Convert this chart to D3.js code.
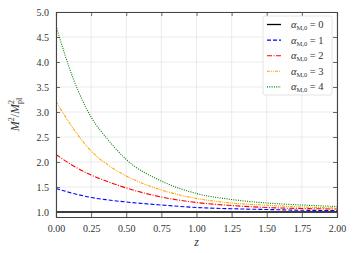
<!DOCTYPE html>
<html><head><meta charset="utf-8">
<script src="https://cdn.jsdelivr.net/npm/d3@7"></script>
<style>body{margin:0;background:#fff}svg{display:block}</style>
</head><body><div id="c"></div>
<script>
const zValues = [0, 0.125, 0.25, 0.375, 0.5, 0.75, 1.0, 1.25, 1.5, 1.75, 2.0];
const alpha0 = [1, 1, 1, 1, 1, 1, 1, 1, 1, 1, 1];
const alpha1 = [1.47, 1.37, 1.29, 1.24, 1.20, 1.14, 1.09, 1.065, 1.05, 1.035, 1.03];
const alpha2 = [2.15, 1.92, 1.74, 1.60, 1.48, 1.30, 1.19, 1.13, 1.09, 1.07, 1.06];
const alpha3 = [3.21, 2.66, 2.22, 1.93, 1.72, 1.44, 1.27, 1.18, 1.135, 1.10, 1.08];
const alpha4 = [4.72, 3.65, 2.90, 2.43, 2.05, 1.62, 1.37, 1.25, 1.18, 1.14, 1.11];
const seriesLabels = ["0", "1", "2", "3", "4"];
const xTicks = [0, 0.25, 0.5, 0.75, 1.0, 1.25, 1.5, 1.75, 2.0];
const yTicks = [1.0, 1.5, 2.0, 2.5, 3.0, 3.5, 4.0, 4.5, 5.0];

(function () {
const FONT = "'Liberation Serif', 'DejaVu Serif', serif";
const W = 354, H = 253;
const m = {l: 56, r: 17, t: 12, b: 36};
const svg = d3.select("#c").append("svg").attr("width", W).attr("height", H)
  .style("font-family", FONT);
const x = d3.scaleLinear().domain([0, 2]).range([m.l, W - m.r]);
const y = d3.scaleLinear().domain([0.9, 5.0]).range([H - m.b, m.t]);

const g = svg.append("g");
g.selectAll(".gx").data(xTicks).enter().append("line")
  .attr("x1", d => x(d)).attr("x2", d => x(d)).attr("y1", m.t).attr("y2", H - m.b)
  .attr("stroke", "#e6e6e6").attr("stroke-width", 0.8);
g.selectAll(".gy").data(yTicks).enter().append("line")
  .attr("x1", m.l).attr("x2", W - m.r).attr("y1", d => y(d)).attr("y2", d => y(d))
  .attr("stroke", "#e6e6e6").attr("stroke-width", 0.8);

const series = [
  {v: alpha0, c: "#000000", d: null, w: 1.3},
  {v: alpha1, c: "#0000ff", d: "4,2", w: 1.1},
  {v: alpha2, c: "#ff0000", d: "5,1.5,1,1.5", w: 1.1},
  {v: alpha3, c: "#ffa500", d: "3,1,1,1,1,1", w: 1.1},
  {v: alpha4, c: "#008000", d: "1,1.3", w: 1.1}
];
const line = d3.line().x((d, i) => x(zValues[i])).y(d => y(d)).curve(d3.curveMonotoneX);
svg.append("defs").append("clipPath").attr("id", "clp").append("rect")
  .attr("x", m.l).attr("y", m.t).attr("width", W - m.l - m.r).attr("height", H - m.t - m.b);
const lg = svg.append("g").attr("clip-path", "url(#clp)");
series.forEach(s => {
  lg.append("path").attr("d", line(s.v)).attr("fill", "none")
    .attr("stroke", s.c).attr("stroke-width", s.w).attr("stroke-dasharray", s.d);
});

const ax = svg.append("g");
const frameColor = "#444";
const aBottom = d3.axisBottom(x).tickValues(xTicks).tickSize(-4).tickPadding(8).tickFormat(d3.format(".2f"));
const aTop = d3.axisTop(x).tickValues(xTicks).tickSize(-4).tickFormat("");
const aLeft = d3.axisLeft(y).tickValues(yTicks).tickSize(-4).tickPadding(7).tickFormat(d3.format(".1f"));
const aRight = d3.axisRight(y).tickValues(yTicks).tickSize(-4).tickFormat("");
[[aBottom, `translate(0,${H - m.b})`], [aTop, `translate(0,${m.t})`], [aLeft, `translate(${m.l},0)`], [aRight, `translate(${W - m.r},0)`]].forEach(([a, t]) => {
  const gg = ax.append("g").attr("transform", t).call(a).attr("font-family", null);
  gg.select(".domain").attr("stroke", frameColor).attr("stroke-width", 1.1);
  gg.selectAll(".tick line").attr("stroke", frameColor).attr("stroke-width", 0.8);
  gg.selectAll(".tick text").style("font-family", FONT).attr("font-size", 10).attr("fill", "#333");
});

svg.append("text").attr("x", x(1)).attr("y", 246).attr("text-anchor", "middle")
  .style("font-family", FONT).attr("font-size", 12).attr("font-style", "italic").attr("fill", "#333").text("z");
const yl = svg.append("text").attr("transform", `translate(19,${(m.t + H - m.b) / 2}) rotate(-90)`)
  .style("font-family", FONT).attr("text-anchor", "middle").attr("font-size", 12).attr("fill", "#333");
yl.append("tspan").attr("font-style", "italic").text("M");
yl.append("tspan").attr("font-size", 8).attr("dy", -5).text("2");
yl.append("tspan").attr("dy", 5).text("/");
yl.append("tspan").attr("font-style", "italic").text("M");
yl.append("tspan").attr("font-size", 8).attr("dy", -5).text("2");
yl.append("tspan").attr("font-size", 8).attr("dx", -4).attr("dy", 8).text("pl");

const L = svg.append("g");
L.append("rect").attr("x", 263).attr("y", 16).attr("width", 69).attr("height", 79).attr("rx", 2)
  .attr("fill", "#fff").attr("fill-opacity", 0.85).attr("stroke", "#ddd").attr("stroke-width", 0.8);
series.forEach((s, i) => {
  const yy = 24.5 + i * 15.6;
  L.append("line").attr("x1", 267).attr("x2", 281).attr("y1", yy).attr("y2", yy)
    .attr("stroke", s.c).attr("stroke-width", s.w).attr("stroke-dasharray", s.d);
  const t = L.append("text").attr("x", 291).attr("y", yy + 3.5).attr("font-size", 10.5)
    .style("font-family", FONT).attr("fill", "#333");
  t.append("tspan").attr("font-style", "italic").text("α");
  t.append("tspan").attr("font-size", 6.5).attr("dy", 2).text("M,0");
  t.append("tspan").attr("dy", -2).text(" = " + seriesLabels[i]);
});
})();
</script></body></html>
